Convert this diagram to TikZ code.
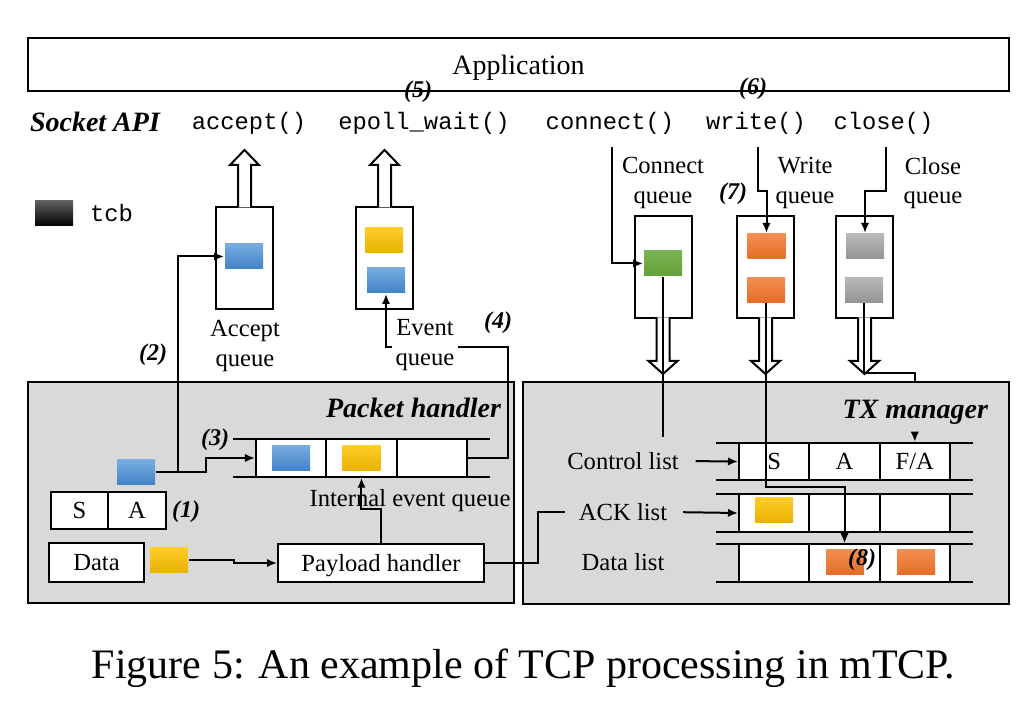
\documentclass[tikz,border=0pt]{standalone}
\usepackage{fontspec}
\setmainfont{Liberation Serif}
\setmonofont{Liberation Mono}
\usepackage{tikz}
\usetikzlibrary{calc,shapes,arrows.meta}

\definecolor{bggray}{RGB}{217,217,217}
\definecolor{blueT}{RGB}{118,172,224}
\definecolor{blueB}{RGB}{66,130,198}
\definecolor{yelT}{RGB}{255,204,40}
\definecolor{yelB}{RGB}{232,178,0}
\definecolor{greenT}{RGB}{122,180,82}
\definecolor{greenB}{RGB}{98,160,56}
\definecolor{orT}{RGB}{242,142,80}
\definecolor{orB}{RGB}{230,108,36}
\definecolor{grT}{RGB}{185,185,185}
\definecolor{grB}{RGB}{148,148,148}
\definecolor{blkT}{RGB}{95,95,95}

\begin{document}
\begin{tikzpicture}[x=0.5pt,y=-0.5pt,line width=1pt,>={Latex[length=5pt,width=4.2pt]},
  lbl/.style={font=\fontsize{12.3}{14.6}\selectfont,align=center,inner sep=0pt},
  numlbl/.style={font=\fontsize{12}{14}\selectfont\bfseries\itshape,inner sep=0pt},
  fn/.style={font=\fontsize{11.9}{14}\selectfont\ttfamily,inner sep=0pt},
  title/.style={font=\fontsize{14}{16}\selectfont\bfseries\itshape,inner sep=0pt},
  qbox/.style={draw,fill=white,minimum width=28.5pt,minimum height=51pt,inner sep=0pt},
  cell/.style={draw,fill=white,minimum width=35.17pt,minimum height=18.75pt,inner sep=0pt,
    font=\fontsize{12.3}{14}\selectfont},
  tcb/.style={minimum width=19pt,minimum height=12.5pt,inner sep=0pt},
  tcbblue/.style={tcb,top color=blueT,bottom color=blueB},
  tcbyel/.style={tcb,top color=yelT,bottom color=yelB},
  tcbgreen/.style={tcb,top color=greenT,bottom color=greenB},
  tcborange/.style={tcb,top color=orT,bottom color=orB},
  tcbgray/.style={tcb,top color=grT,bottom color=grB}]

  \useasboundingbox (0,0) rectangle (1032,704);

  %% Application and socket API
  \node[draw,minimum width=490.5pt,minimum height=26.5pt,text depth=0pt,font=\fontsize{14}{16}\selectfont] (app) at (518.5,64.5) {Application};
  \node[title,anchor=west] (sockapi) at (29,122) {Socket API};
  \foreach \n/\x/\t in {faccept/249/accept(), fepoll/424/epoll\_wait(), fconnect/610/connect(), fwrite/756/write(), fclose/883.5/close()}
    \node[fn] (\n) at (\x,123) {\t};

  %% legend
  \node[tcb,top color=blkT,bottom color=black] (legend) at (54,213.5) {};
  \node[fn,anchor=west] (legendtxt) at (89,213) {tcb};

  %% queues between API and stack
  \node[qbox] (accq) at (244.5,258) {};
  \node[qbox] (evq) at (384.5,258) {};
  \foreach \n/\x in {conq/663, wrq/765.5, clq/864.5}
    \node[qbox] (\n) at (\x,267) {};

  \foreach \q in {accq,evq}
    \draw[fill=white] ($(\q.north)+(-6.5,1.5)$) -- ++(0,-42.5) -- ++(-8,0) -- ++(14.5,-15)
      -- ++(14.5,15) -- ++(-8,0) -- ++(0,42.5);
  \foreach \q in {conq,wrq,clq}
    \draw[fill=white] ($(\q.south)+(-6.5,-1.5)$) -- ++(0,43.5) -- ++(-8,0) -- ++(14.5,13)
      -- ++(14.5,-13) -- ++(-8,0) -- ++(0,-43.5);

  \node[tcbblue] (accTcb) at (244,256.5) {};
  \node[tcbyel] (evTcb1) at (384,240) {};
  \node[tcbblue] (evTcb2) at (386,280.5) {};
  \node[tcbgreen] (conTcb) at (663,263.5) {};
  \node[tcborange] (wrTcb1) at (766.5,246.5) {};
  \node[tcborange] (wrTcb2) at (766,290) {};
  \node[tcbgray] (clTcb1) at (865,246.5) {};
  \node[tcbgray] (clTcb2) at (864,290) {};

  \node[lbl] (accqlbl) at (245,346) {Accept\\queue};
  \node[lbl] (conqlbl) at (663,183) {Connect\\queue};
  \node[lbl] (wrqlbl) at (805,183) {Write\\queue};
  \node[lbl] (clqlbl) at (933,183) {Close\\queue};

  %% packet handler and TX manager
  \node[draw,fill=bggray,minimum width=243pt,minimum height=110.5pt] (ph) at (271,492.5) {};
  \node[draw,fill=bggray,minimum width=243pt,minimum height=111pt] (tx) at (766,493) {};
  \node[title,anchor=east] (phlbl) at (502,408) {Packet handler};
  \node[title,anchor=east] (txlbl) at (989,412) {TX manager};

  %% internal event queue
  \draw (233,439) -- (490,439) (233,477) -- (490,477);
  \foreach \i in {1,2,3}
    \node[cell] (ieq\i) at (256+70.33*\i-35.17,458) {};
  \node[tcbblue] (ieqTcb1) at (ieq1) {};
  \node[tcbyel] (ieqTcb2) at (ieq2) {};
  \node[lbl] (ieqlbl) at (410,501) {Internal event queue};

  \node[tcbblue] (phTcb) at (136,472.5) {};
  \node[cell,minimum width=28.5pt,minimum height=18.5pt] (sa1) at (79.5,510.5) {S};
  \node[cell,minimum width=29pt,minimum height=18.5pt] (sa2) at (137,510.5) {A};
  \node[draw,fill=white,lbl,minimum width=47.5pt,minimum height=19.5pt] (data) at (96.5,562.5) {Data};
  \node[tcbyel] (dataTcb) at (169,560.5) {};
  \node[draw,fill=white,lbl,text depth=0pt,minimum width=103pt,minimum height=19pt] (payload) at (381,563) {Payload handler};

  %% control, ACK and data lists
  \foreach \r/\y in {cl/461.5,al/513,dl/563}
  {
    \draw (716,\y-18.75) -- (973,\y-18.75) (716,\y+18.75) -- (973,\y+18.75);
    \foreach \i in {1,2,3}
      \node[cell] (\r\i) at (739+70.33*\i-35.17,\y) {};
  }
  \node[lbl] (clS) at (cl1) {S};
  \node[lbl] (clA) at (cl2) {A};
  \node[lbl] (clFA) at (cl3) {F/A};
  \node[tcbyel] (alTcb) at (774,510.5) {};
  \node[tcborange] (dlTcb1) at (845,562.5) {};
  \node[tcborange] (dlTcb2) at (916,562.5) {};
  \node[lbl] (ctllbl) at (623,461) {Control list};
  \node[lbl] (acklbl) at (623,512) {ACK list};
  \node[lbl] (datalbl) at (623,562) {Data list};

  %% connectors
  \draw[->] (phTcb.east) -- ++(22,0) |- (accTcb.west);
  \draw[->] (phTcb.east) -- ++(50,0) |- (ieq1.west);
  \draw[->] (dataTcb.east) -- ++(45,0) |- (payload.west);
  \draw[->] (payload.north) -- ++(0,-34) -| (ieq2.south);
  \draw[shorten >=6.5pt] (payload.east) -- ++(53,0) |- (acklbl.west);
  \draw[->] (ieq3.east) -- ++(40,0) |- ($(evTcb2.south)+(0,53)$) -- (evTcb2.south);
  \node[lbl,fill=white,inner sep=2pt] (evqlbl) at (425,345) {Event\\queue};

  \draw[->] ($(fconnect.south)+(2,12)$) |- (conTcb.west);
  \draw[->] ($(fwrite.south)+(2,12)$) -- ++(0,44) -| (wrTcb1.north);
  \draw[->] ($(fclose.south)+(2.5,12)$) -- ++(0,44) -| (clTcb1.north);
  \draw[shorten >=7pt] (conTcb.south) -- (conTcb.south |- ctllbl.north);
  \draw[->] (wrTcb2.south) -- ++(0,184) -| (dl2.north);
  \draw (clTcb2.south) -- ++(0,70) -| (tx.north -| cl3.north);
  \draw[->] ($(cl3.north)+(0,-10)$) -- (cl3.north);
  \draw[->,shorten <=8pt] (ctllbl.east) -- (cl1.west);
  \draw[->,shorten <=7.5pt] (acklbl.east) -- (al1.west);

  %% step numbers
  \foreach \n/\x/\y/\t in {n1/186/512/(1), n2/153/355/(2), n3/215/440/(3), n4/498/323/(4),
    n5/418/92/(5), n6/753/89/(6), n7/733/194/(7), n8/862/560/(8)}
    \node[numlbl] (\n) at (\x,\y) {\t};

  \node[font=\fontsize{21}{24}\selectfont,anchor=base] (caption) at (523.5,678) {Figure 5: An example of TCP processing in mTCP.};
\end{tikzpicture}
\end{document}
